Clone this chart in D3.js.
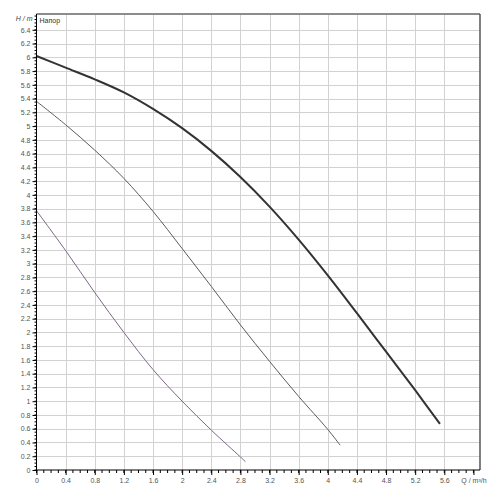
<!DOCTYPE html>
<html lang="ru">
<head>
<meta charset="UTF-8">
<title>Напор</title>
<script src="https://d3js.org/d3.v7.min.js"></script>
<style>
  body { margin: 0; background: #fff; }
  svg text { font-family: "Liberation Sans", Arial, sans-serif; }
</style>
</head>
<body>
<script>
// pump curves, Q in m3/h, H in m
const flowQ1 = [0, 0.4, 0.8, 1.2, 1.6, 2.0, 2.4, 2.8, 3.2, 3.6, 4.0, 4.4, 4.8, 5.2, 5.54];
const head1  = [6.02, 5.85, 5.68, 5.49, 5.25, 4.97, 4.64, 4.26, 3.83, 3.35, 2.83, 2.28, 1.72, 1.16, 0.67];

const flowQ2 = [0, 0.4, 0.8, 1.2, 1.6, 2.0, 2.4, 2.8, 3.2, 3.6, 4.0, 4.17];
const head2  = [5.36, 5.02, 4.65, 4.24, 3.76, 3.22, 2.67, 2.11, 1.58, 1.07, 0.59, 0.36];

const flowQ3 = [0, 0.4, 0.8, 1.2, 1.6, 2.0, 2.4, 2.8, 2.87];
const head3  = [3.77, 3.19, 2.58, 2.0, 1.46, 1.0, 0.58, 0.19, 0.12];

const xTicks = d3.range(0, 6.01, 0.4);      // labelled ticks, last one replaced by the unit
const yTicks = d3.range(0, 6.41, 0.2);
const xGrid  = d3.range(0.4, 5.61, 0.4);
const yGrid  = d3.range(0.2, 6.41, 0.2);

const w = 500, h = 500;
const padLeft = 36.5, padRight = 480, padTop = 14, padBottom = 470;

const x = d3.scaleLinear().domain([0, 6.09]).range([padLeft, padRight]);
const y = d3.scaleLinear().domain([0, 6.63]).range([padBottom, padTop]);

const fmt = v => String(+v.toFixed(2));

const svg = d3.select("body").append("svg")
  .attr("width", w).attr("height", h);

// grid
svg.append("g").selectAll("line").data(yGrid).enter().append("line")
  .attr("x1", padLeft).attr("x2", padRight)
  .attr("y1", d => Math.round(y(d)) + 0.5).attr("y2", d => Math.round(y(d)) + 0.5)
  .attr("stroke", "#d2d2d2");
svg.append("g").selectAll("line").data(xGrid).enter().append("line")
  .attr("y1", padTop).attr("y2", padBottom)
  .attr("x1", d => Math.round(x(d)) + 0.5).attr("x2", d => Math.round(x(d)) + 0.5)
  .attr("stroke", "#d2d2d2");

// frame: top and right
svg.append("line").attr("x1", padLeft).attr("x2", padRight).attr("y1", padTop).attr("y2", padTop)
  .attr("stroke", "#8c8c8c").attr("stroke-width", 2);
svg.append("line").attr("x1", padRight).attr("x2", padRight).attr("y1", padTop).attr("y2", padBottom)
  .attr("stroke", "#555").attr("stroke-width", 1.5);

// curves
const line = d3.line().x(d => x(d[0])).y(d => y(d[1])).curve(d3.curveCatmullRom);
const curves = [
  { q: flowQ1, hd: head1, color: "#333", width: 2 },
  { q: flowQ2, hd: head2, color: "#5a5a5a", width: 1 },
  { q: flowQ3, hd: head3, color: "#7c6684", width: 1 }
];
curves.forEach(c => {
  svg.append("path")
    .datum(c.q.map((q, i) => [q, c.hd[i]]))
    .attr("fill", "none")
    .attr("stroke", c.color)
    .attr("stroke-width", c.width)
    .attr("d", line);
});

// x axis
const xAxis = d3.axisBottom(x).tickValues(xTicks).tickSize(5).tickPadding(3)
  .tickFormat((d, i) => i === xTicks.length - 1 ? "Q / m³/h" : fmt(d));
const gx = svg.append("g").attr("transform", "translate(0," + padBottom + ")").call(xAxis);
gx.select(".domain").attr("d", "M" + padLeft + ",0H" + padRight);
gx.selectAll(".tick text").attr("font-size", 7).attr("fill", "#555");
gx.append("g").selectAll("line").data(d3.range(0, 6.01, 0.1)).enter().append("line")
  .attr("x1", d => x(d)).attr("x2", d => x(d))
  .attr("y1", 0).attr("y2", 3).attr("stroke", "#000");

// y axis
const yAxis = d3.axisLeft(y).tickValues(yTicks).tickSize(4).tickPadding(2).tickFormat(fmt);
const gy = svg.append("g").attr("transform", "translate(" + padLeft + ",0)").call(yAxis);
gy.select(".domain").attr("d", "M0," + padBottom + "V" + padTop);
gy.selectAll(".tick text").attr("font-size", 7).attr("fill", "#555");
gy.append("g").selectAll("line").data(d3.range(0, 6.61, 0.05)).enter().append("line")
  .attr("y1", d => y(d)).attr("y2", d => y(d))
  .attr("x1", 0).attr("x2", -2).attr("stroke", "#000");
gy.append("text")
  .attr("x", -4).attr("y", 19)
  .attr("dy", "0.32em")
  .attr("text-anchor", "end")
  .attr("font-size", 7).attr("font-style", "italic").attr("fill", "#444")
  .text("H / m");

// series title
svg.append("text")
  .attr("x", padLeft + 3).attr("y", 22.5)
  .attr("font-size", 7).attr("fill", "#333")
  .text("Напор");
</script>
</body>
</html>
